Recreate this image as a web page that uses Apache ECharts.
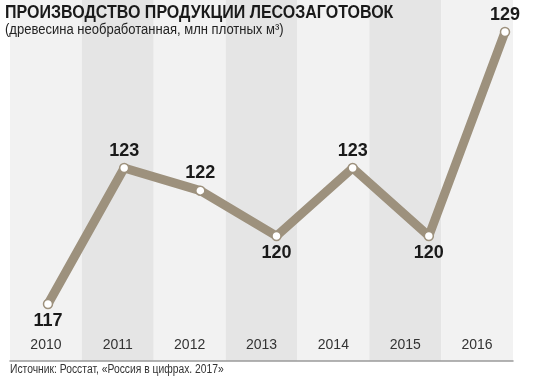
<!DOCTYPE html>
<html>
<head>
<meta charset="utf-8">
<script src="https://cdn.jsdelivr.net/npm/echarts@6/dist/echarts.min.js"></script>
<style>html,body{margin:0;padding:0;background:#fff}#c{width:550px;height:379px}</style>
</head>
<body>
<div id="c"></div>
<script>
const titleText = 'ПРОИЗВОДСТВО ПРОДУКЦИИ ЛЕСОЗАГОТОВОК';
const subtitleText = '(древесина необработанная, млн плотных м³)';
const sourceText = 'Источник: Росстат, «Россия в цифрах. 2017»';
const years = ['2010', '2011', '2012', '2013', '2014', '2015', '2016'];
const values = [117, 123, 122, 120, 123, 120, 129];

const lineColor = '#9d917d';
const font = '"Liberation Sans", Arial, sans-serif';

const seriesData = values.map((v, i) => {
  const prev = i > 0 ? values[i - 1] : Infinity;
  const next = i < values.length - 1 ? values[i + 1] : Infinity;
  const below = v < prev && v < next;
  return { value: v, label: { position: below ? 'bottom' : 'top' } };
});

const chart = echarts.init(document.getElementById('c'), null, { renderer: 'canvas' });
chart.setOption({
  animation: false,
  backgroundColor: '#ffffff',
  graphic: [
    {
      type: 'text', x: 5, y: 4, scaleX: 0.89, z: 10,
      style: { text: titleText, fontFamily: font, fontWeight: 'bold', fontSize: 18, fill: '#1a1a1a', verticalAlign: 'top' }
    },
    {
      type: 'text', x: 5, y: 23, scaleX: 0.93, z: 10,
      style: { text: subtitleText, fontFamily: font, fontSize: 14, fill: '#222', verticalAlign: 'top' }
    },
    {
      type: 'text', x: 10, y: 364, scaleX: 0.86, z: 10,
      style: { text: sourceText, fontFamily: font, fontSize: 12, fill: '#333', verticalAlign: 'top' }
    }
  ],
  grid: [
    { left: 10, right: 37, top: 0, bottom: 18 },
    { left: 48, right: 45, top: 32, bottom: 75 }
  ],
  xAxis: [
    {
      type: 'category', gridIndex: 0, data: years, boundaryGap: true,
      axisLine: { show: true, lineStyle: { color: '#9a9a9a', width: 1.5 } },
      axisTick: { show: false },
      axisLabel: { inside: true, margin: 9, fontFamily: font, fontSize: 14, color: '#333' },
      splitArea: { show: true, areaStyle: { color: ['#f2f2f2', '#e5e5e5'] } },
      splitLine: { show: false }
    },
    {
      type: 'category', gridIndex: 1, data: years, boundaryGap: false,
      show: false
    }
  ],
  yAxis: [
    { type: 'value', gridIndex: 0, show: false, splitLine: { show: false } },
    { type: 'value', gridIndex: 1, min: 117, max: 129, show: false, splitLine: { show: false } }
  ],
  series: [
    {
      type: 'line', xAxisIndex: 1, yAxisIndex: 1,
      data: seriesData,
      lineStyle: { color: lineColor, width: 9, join: 'round' },
      symbol: 'circle', symbolSize: 9,
      itemStyle: { color: '#ffffff', borderColor: lineColor, borderWidth: 1.5 },
      label: {
        show: true, distance: 3,
        fontFamily: font, fontWeight: 'bold', fontSize: 18, color: '#1a1a1a'
      },
      z: 5
    }
  ]
});
</script>
</body>
</html>
